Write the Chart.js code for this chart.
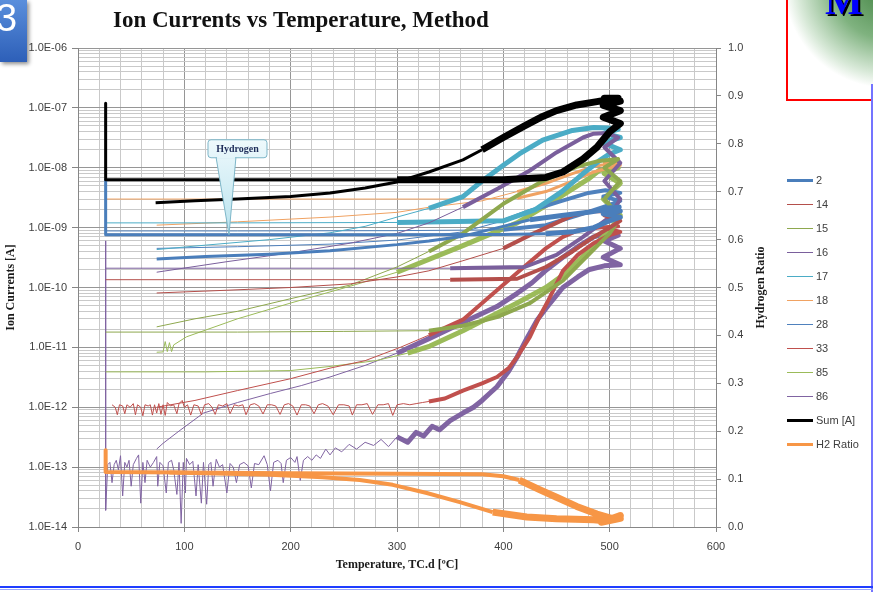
<!DOCTYPE html>
<html>
<head>
<meta charset="utf-8">
<script src="https://cdn.jsdelivr.net/npm/chart.js"></script>
<style>
  html, body { margin: 0; padding: 0; background: #fff; }
  #page { position: relative; width: 873px; height: 592px; overflow: hidden; background: #fff; }
  #chart { position: absolute; left: 0; top: 0; }
  #slideNo { position: absolute; left: 0; top: 0; width: 27px; height: 62px; overflow: hidden;
    background: linear-gradient(#5a8fdc, #2d5fb8); box-shadow: 2px 2px 4px rgba(0,0,0,.45); }
  #slideNo span { position: absolute; left: -4px; top: -3px; font: 38px "Liberation Sans", Arial, sans-serif; color: #fff; }
  #logoBox { position: absolute; left: 786px; top: -3px; width: 100px; height: 100px; border: 2px solid #f00; overflow: hidden;
    background: radial-gradient(circle at 100px -15px, #3d7f3d 0, #7fb27f 55px, #d8e9d8 90px, #fff 104px); }
  #logoBox span { position: absolute; left: 37px; top: -22px; font: bold 40px "Liberation Serif", serif; color: #0000ff;
    text-shadow: 2px 2px 0 #000; }
  .ruleRight { position: absolute; left: 871px; top: 84px; width: 2px; height: 508px; background: #7474ff; }
  .ruleBottom { position: absolute; left: 0; top: 586px; width: 873px; height: 2px; background: #1f3dff; }
  .ruleBottom2 { position: absolute; left: 0; top: 589px; width: 873px; height: 1px; background: #9aa8ff; }
  .lg { position: absolute; left: 787px; height: 16px; width: 80px; font: 11px "Liberation Sans", Arial, sans-serif; color: #404040; }
  .lg i { position: absolute; left: 0; width: 26px; }
  .lg b { position: absolute; left: 29px; top: 0; line-height: 16px; font-weight: normal; }
</style>
</head>
<body>
<div id="page">
  <canvas id="chart" width="873" height="592"></canvas>
  <div id="slideNo"><span>3</span></div>
  <div id="logoBox"><span>M</span></div>
  <div class="ruleRight"></div>
  <div class="ruleBottom"></div>
  <div class="ruleBottom2"></div>
</div>
<script>
// values: [temperature °C, ion current A]
const ion2 = [[26,6.3e-9],[26,7.6e-10],[100,7.6e-10],[200,7.6e-10],[300,7.6e-10],[400,7.7e-10],[440,7.9e-10],[465,8.5e-10],[485,1.0e-9],[500,1.3e-9],
  [510,1.5e-9],[494,1.7e-9],[510,1.9e-9],[495,2.1e-9],[509,2.2e-9],[496,2.0e-9],
  [480,1.8e-9],[455,1.6e-9],[425,1.35e-9],[395,1.0e-9],[362,7.2e-10],[330,6e-10],[300,5.2e-10],[237,4.1e-10],[180,3.6e-10],[120,3.3e-10],[74,3.0e-10]];
const ion14 = [[26,1.35e-10],[200,1.35e-10],[350,1.35e-10],[413,1.4e-10],[440,2.2e-10],[465,4e-10],[485,7e-10],[500,1e-9],
  [510,1.3e-9],[495,1.6e-9],[508,1.8e-9],
  [485,1.9e-9],[465,1.6e-9],[450,1.2e-9],[425,7.5e-10],[400,4.5e-10],[362,2.8e-10],[330,1.9e-10],[300,1.5e-10],[256,1.15e-10],[200,1e-10],[140,9e-11],[74,8.1e-11]];
const ion15 = [[26,1.8e-11],[150,1.8e-11],[250,1.85e-11],[330,1.9e-11],[362,2.3e-11],[394,3.2e-11],[425,5.5e-11],[456,1.3e-10],[480,3.5e-10],[500,8e-10],
  [510,1.5e-9],[495,3e-9],[510,6e-9],[495,1e-8],[508,1.4e-8],
  [490,1.3e-8],[470,1.05e-8],[437,6e-9],[400,2.5e-9],[362,8e-10],[330,4e-10],[300,2.2e-10],[256,1.1e-10],[200,6.5e-11],[150,4e-11],[110,3e-11],[74,2.2e-11]];
const ion16 = [[26,2.1e-10],[200,2.1e-10],[350,2.1e-10],[420,2.2e-10],[450,3.5e-10],[475,7e-10],[500,1.5e-9],
  [510,3e-9],[495,6e-9],[510,1.2e-8],[495,2.2e-8],[508,3.2e-8],[498,3.8e-8],
  [485,3.7e-8],[475,3.2e-8],[450,1.8e-8],[425,9e-9],[395,4.5e-9],[362,2.2e-9],[330,1.2e-9],[300,8e-10],[256,5.5e-10],[200,3.8e-10],[140,2.7e-10],[74,1.8e-10]];
const ion17 = [[26,1.2e-9],[150,1.2e-9],[300,1.22e-9],[400,1.3e-9],[430,2e-9],[455,4e-9],[475,8e-9],[490,1.3e-8],[500,1.7e-8],
  [510,2e-8],[494,2.6e-8],[510,3.2e-8],[495,3.8e-8],[508,4.4e-8],[498,4.6e-8],
  [485,4.7e-8],[465,4.2e-8],[437,2.9e-8],[415,1.7e-8],[400,1.1e-8],[380,6e-9],[362,3.3e-9],[330,2.1e-9],[300,1.5e-9],[270,1.05e-9],[237,8.2e-10],[180,6.3e-10],[120,5.1e-10],[74,4.3e-10]];
const ion18 = [[26,3.0e-9],[200,3.0e-9],[350,3.0e-9],[413,3.1e-9],[440,4e-9],[465,6e-9],[485,8.5e-9],[500,1.0e-8],
  [510,1.1e-8],[495,1.2e-8],[508,1.25e-8],
  [485,1.05e-8],[465,8e-9],[440,5.5e-9],[413,4e-9],[380,2.8e-9],[331,2.2e-9],[300,1.8e-9],[237,1.5e-9],[150,1.25e-9],[74,1.1e-9]];
const ion28 = [[26,8.8e-10],[150,8.8e-10],[300,8.9e-10],[400,9.2e-10],[440,1.1e-9],[470,1.6e-9],[500,2.4e-9],
  [510,2.8e-9],[494,3.3e-9],[510,3.8e-9],[496,4.2e-9],
  [480,3.8e-9],[455,2.8e-9],[425,1.9e-9],[400,1.3e-9],[362,8.5e-10],[300,6.2e-10],[237,5.3e-10],[150,4.8e-10],[74,4.5e-10]];
const ion33 = [[32,1.1e-12],[35,1.0e-12],[37,7.5e-13],[39,1.1e-12],[42,1.05e-12],[44,7.8e-13],[46,1.1e-12],[49,1.0e-12],[52,1.15e-12],[54,7.5e-13],
  [56,1.1e-12],[59,1.0e-12],[61,7.2e-13],[63,1.1e-12],[66,1.05e-12],[68,1.1e-12],[70,7.4e-13],[72,1.1e-12],[74,8e-13],[76,1.15e-12],
  [78,7.6e-13],[80,1.1e-12],[82,7.3e-13],[84,1.2e-12],[87,1.05e-12],[90,1.1e-12],[93,7.8e-13],[95,1.15e-12],[98,1.3e-12],[100,1.0e-12],
  [103,1.1e-12],[106,7.4e-13],[109,1.1e-12],[113,1.05e-12],[116,7.5e-13],[119,1.1e-12],[123,1.15e-12],[126,1.0e-12],[129,7.6e-13],[132,1.1e-12],
  [136,1.05e-12],[140,1.15e-12],[143,7.8e-13],[147,1.1e-12],[151,1.05e-12],[155,1.1e-12],[158,7.5e-13],[162,1.1e-12],[166,1.15e-12],[170,1.05e-12],
  [174,7.7e-13],[178,1.1e-12],[182,1.1e-12],[186,1.05e-12],[190,7.6e-13],[194,1.1e-12],[198,1.15e-12],[202,1.05e-12],[206,7.4e-13],[210,1.1e-12],
  [214,1.1e-12],[218,1.05e-12],[222,7.8e-13],[226,1.1e-12],[230,1.15e-12],[235,1.05e-12],[240,7.5e-13],[245,1.1e-12],[250,1.1e-12],[255,1.05e-12],
  [258,7.4e-13],[262,1.1e-12],[267,1.1e-12],[272,1.15e-12],[277,7.6e-13],[282,1.1e-12],[287,1.1e-12],[292,1.15e-12],[296,7.3e-13],[300,1.1e-12],
  [306,1.15e-12],[312,1.1e-12],[318,1.15e-12],[324,1.2e-12],[330,1.25e-12],
  [345,1.4e-12],[362,1.9e-12],[380,2.5e-12],[394,3.2e-12],[405,4.5e-12],[413,6.9e-12],[425,1.5e-11],[433,3e-11],[441,5.5e-11],[456,1.9e-10],[470,3.5e-10],[485,5.5e-10],[500,7.5e-10],
  [510,8.5e-10],[495,1e-9],[508,1.05e-9],
  [490,1e-9],[470,9e-10],[456,7e-10],[440,4.5e-10],[418,2.1e-10],[394,9e-11],[362,2.9e-11],[330,1.6e-11],[303,1e-11],[270,6e-12],[237,4.5e-12],[200,3e-12],[150,1.9e-12],[110,1.3e-12],[74,1.0e-12]];
const ion85 = [[26,3.9e-12],[120,3.9e-12],[200,4.1e-12],[237,4.8e-12],[280,6e-12],[310,8e-12],[331,1.05e-11],[362,1.9e-11],[413,5.5e-11],[440,1e-10],[456,1.6e-10],[480,4e-10],[500,9e-10],
  [510,1.6e-9],[494,3e-9],[510,5.5e-9],[495,8e-9],[508,1e-8],
  [490,9e-9],[480,6.5e-9],[450,3e-9],[413,1.2e-9],[362,5e-10],[300,1.8e-10],[256,1.05e-10],[200,5.5e-11],[150,3e-11],[102,1.5e-11],[90,1.1e-11],[88,8.5e-12],[86,1.2e-11],[84,8.5e-12],[82,1.25e-11],[80,8.4e-12],[74,8.3e-12]];
const ion86 = [[26,6e-10],[26,1.9e-14],[28,1.1e-13],[30,1.2e-13],[32,5.5e-14],[34,1.1e-13],[36,1.3e-13],[38,9e-14],[40,1.55e-13],[42,3.3e-14],
  [44,1.2e-13],[46,1.0e-13],[48,1.3e-13],[50,4.8e-14],[52,1.1e-13],[55,1.4e-13],[57,1.6e-13],[59,2.5e-14],[61,1.2e-13],[63,5.5e-14],
  [65,1.3e-13],[68,1.0e-13],[71,1.2e-13],[74,1.5e-13],[75,4.8e-14],[77,1.2e-13],[80,1.05e-13],[83,3.7e-14],[85,1.2e-13],[88,1.3e-13],
  [90,9e-14],[93,3.5e-14],[95,1.2e-13],[97,1.15e-14],[99,1.2e-13],[101,3.7e-14],[102,1.4e-13],[105,1.1e-13],[108,1.25e-13],[111,3.3e-14],
  [113,1.1e-13],[116,2.5e-14],[118,1.2e-13],[121,2.4e-14],[123,1.1e-13],[125,1.2e-13],[127,4.8e-14],[130,1.35e-13],[133,1.0e-13],[136,1.1e-13],
  [140,3.7e-14],[143,1.15e-13],[146,1.0e-13],[149,5.5e-14],[152,1.1e-13],[156,1.2e-13],[160,1.05e-13],[163,4.5e-14],[166,1.15e-13],[170,1.1e-13],
  [175,1.55e-13],[178,1.1e-13],[181,4e-14],[184,1.2e-13],[188,1.3e-13],[191,1.15e-13],[193,5.5e-14],[196,1.3e-13],[200,1.45e-13],[204,1.2e-13],
  [206,1.5e-13],[209,6e-14],[212,1.3e-13],[216,1.5e-13],[220,1.3e-13],[224,1.6e-13],[228,1.4e-13],[233,2e-13],[237,1.6e-13],[242,2.1e-13],
  [248,1.8e-13],[255,2.4e-13],[262,2.0e-13],[270,2.6e-13],[278,2.3e-13],[285,2.9e-13],[292,2.2e-13],[300,3.2e-13],[310,2.6e-13],[318,3.8e-13],
  [325,3.3e-13],[333,4.8e-13],[340,4.2e-13],[350,6e-13],[362,8e-13],[372,1e-12],[380,1.3e-12],[387,1.7e-12],[394,2.2e-12],[405,4e-12],
  [413,6.9e-12],[422,1.4e-11],[432,2.9e-11],[444,5.5e-11],[456,1e-10],[470,1.5e-10],[481,2e-10],[495,2.3e-10],
  [510,2.4e-10],[494,3.2e-10],[510,4.5e-10],[495,6e-10],[508,7.5e-10],[497,8e-10],
  [485,7e-10],[470,4.8e-10],[456,3.2e-10],[441,2e-10],[427,1.2e-10],[413,8e-11],[394,4.8e-11],[362,2.6e-11],[330,1.4e-11],[300,8e-12],
  [270,5e-12],[237,3.2e-12],[210,2.3e-12],[181,1.7e-12],[150,1.2e-12],[118,8e-13],[95,4e-13],[80,2.5e-13],[74,2e-13]];
const ionSum = [[26,1.2e-7],[26,6.3e-9],[150,6.3e-9],[300,6.3e-9],[400,6.3e-9],[440,6.9e-9],[456,8.5e-9],[475,1.4e-8],[488,2.2e-8],[500,4e-8],
  [510,5.5e-8],[494,7e-8],[510,9e-8],[494,1.1e-7],[510,1.3e-7],[495,1.45e-7],[508,1.45e-7],[497,1.35e-7],
  [488,1.27e-7],[469,1.12e-7],[450,9e-8],[437,7.2e-8],[420,5e-8],[400,3.2e-8],[380,2e-8],[362,1.35e-8],[330,8.5e-9],[300,5.8e-9],
  [270,4.6e-9],[237,3.8e-9],[200,3.3e-9],[150,3.0e-9],[110,2.8e-9],[73,2.6e-9]];
// [temperature °C, hydrogen ratio]
const h2Ratio = [[26,0.16],[26,0.115],[100,0.114],[200,0.112],[300,0.111],[380,0.11],[400,0.106],[415,0.098],[434,0.078],[450,0.062],[469,0.043],[488,0.027],[505,0.016],
  [495,0.012],[510,0.024],[492,0.01],[510,0.018],[490,0.014],
  [485,0.015],[450,0.017],[422,0.021],[390,0.031],[359,0.052],[328,0.071],[296,0.088],[265,0.098],[230,0.104],[181,0.109],[120,0.112],[86,0.114]];

const seriesNames = ["2", "14", "15", "16", "17", "18", "28", "33", "85", "86", "Sum [A]", "H2 Ratio"];
const seriesData = [ion2, ion14, ion15, ion16, ion17, ion18, ion28, ion33, ion85, ion86, ionSum, h2Ratio];
const xTickLabels = ["0", "100", "200", "300", "400", "500", "600"];
const yTickLabels = ["1.0E-14", "1.0E-13", "1.0E-12", "1.0E-11", "1.0E-10", "1.0E-09", "1.0E-08", "1.0E-07", "1.0E-06"];
const ratioTickLabels = ["0.0", "0.1", "0.2", "0.3", "0.4", "0.5", "0.6", "0.7", "0.8", "0.9", "1.0"];
const chartTitle = "Ion Currents vs Temperature, Method";
const calloutText = "Hydrogen";
const calloutAt = [142, 7.6e-10];

// styles
const lineColors = ["#4a7ebb", "#b44f4b", "#8ea84e", "#7a5f9c", "#4bacc6", "#f0a262", "#4f81bd", "#c0504d", "#9bbb59", "#8064a2", "#000000", "#f79646"];
const lineWidths = [3, 1, 1, 1, 1, 1, 1, 1, 1, 1, 3, 4];
const bandWidths = [5, 4, 4, 4, 5, 3, 4, 4, 5, 5, 7, 7];
const bandFrom = [440, 400, 350, 380, 330, 430, 420, 330, 330, 300, 380, 420];
const legendWidths = [3, 1, 1, 1, 1, 1, 1, 1, 1, 1, 3, 3];

var serif = '"Liberation Serif", "Times New Roman", serif';
var sans = '"Liberation Sans", Arial, sans-serif';
var gridMinor = "#c9c9c9";
var gridMajor = "#969696";

function isDecade(v) {
  var l = Math.log10(v);
  return Math.abs(l - Math.round(l)) < 1e-6;
}

Chart.defaults.font.family = sans;
Chart.defaults.font.size = 11;
Chart.defaults.color = "#404040";

var datasets = seriesData.map(function (pts, i) {
  var isRatio = i === seriesData.length - 1;
  return {
    label: seriesNames[i],
    data: pts.map(function (p) { return { x: p[0], y: p[1] }; }),
    yAxisID: isRatio ? "y2" : "y",
    borderColor: lineColors[i],
    borderWidth: lineWidths[i],
    borderJoinStyle: "round",
    pointRadius: 0,
    tension: 0,
    order: i >= 10 ? 0 : 1,
    segment: {
      borderWidth: function (ctx) {
        return ctx.p0.parsed.x > bandFrom[i] || ctx.p1.parsed.x > bandFrom[i] ? bandWidths[i] : lineWidths[i];
      }
    }
  };
});

var decor = {
  id: "decor",
  afterDraw: function (chart) {
    var c = chart.ctx;
    var area = chart.chartArea;
    c.save();
    c.fillStyle = "#111";
    c.font = "bold 23px " + serif;
    c.textAlign = "left";
    c.textBaseline = "alphabetic";
    c.fillText(chartTitle, 113, 27);

    c.save();
    c.translate(761, (area.top + area.bottom) / 2);
    c.rotate(-Math.PI / 2);
    c.font = "bold 12px " + serif;
    c.textAlign = "center";
    c.textBaseline = "middle";
    c.fillStyle = "#1a1a1a";
    c.fillText("Hydrogen Ratio", 0, 0);
    c.restore();

    // callout pointing at the mass 2 line
    var tx = chart.scales.x.getPixelForValue(calloutAt[0]);
    var ty = chart.scales.y.getPixelForValue(calloutAt[1]);
    var bx = tx - 21, by = ty - 95, bw = 59, bh = 18;
    var g = c.createLinearGradient(0, by, 0, ty);
    g.addColorStop(0, "#eef9fc");
    g.addColorStop(1, "#b9e3ee");
    c.fillStyle = g;
    c.strokeStyle = "#7db6c8";
    c.lineWidth = 1;
    c.beginPath();
    c.moveTo(tx - 13, by + bh - 1);
    c.lineTo(tx, ty);
    c.lineTo(tx + 7, by + bh - 1);
    c.closePath();
    c.fill();
    c.stroke();
    c.beginPath();
    c.roundRect(bx, by, bw, bh, 3);
    c.fill();
    c.stroke();
    c.fillStyle = g;
    c.fillRect(tx - 12, by + bh - 2, 18, 3);
    c.fillStyle = "#1f2d5a";
    c.font = "bold 10px " + serif;
    c.textAlign = "center";
    c.textBaseline = "middle";
    c.fillText(calloutText, bx + bw / 2, by + bh / 2 + 1);
    c.restore();
  }
};

new Chart(document.getElementById("chart"), {
  type: "line",
  data: { datasets: datasets },
  plugins: [decor],
  options: {
    responsive: false,
    animation: false,
    events: [],
    layout: { padding: { left: 0, right: 98, top: 48, bottom: 18 } },
    plugins: { legend: { display: false }, tooltip: { enabled: false } },
    scales: {
      x: {
        type: "linear",
        min: 0,
        max: 600,
        afterFit: function (s) { s.height = 47; },
        border: { color: "#868686" },
        grid: {
          color: function (ctx) { return ctx.tick && ctx.tick.value % 100 === 0 ? gridMajor : gridMinor; },
          tickColor: function (ctx) { return ctx.tick && ctx.tick.value % 100 === 0 ? "#868686" : "rgba(0,0,0,0)"; },
          tickLength: 5
        },
        ticks: {
          stepSize: 20,
          autoSkip: false,
          maxRotation: 0,
          padding: 8,
          callback: function (v) { return v % 100 === 0 ? xTickLabels[v / 100] : ""; }
        },
        title: {
          display: true,
          text: "Temperature, TC.d [ºC]",
          color: "#1a1a1a",
          font: { family: serif, size: 12, weight: "bold" },
          padding: { top: 4, bottom: 2 }
        }
      },
      y: {
        type: "logarithmic",
        position: "left",
        min: 1e-14,
        max: 1e-6,
        afterFit: function (s) { s.width = 78; },
        afterBuildTicks: function (s) {
          var ticks = [];
          for (var e = -14; e < -6; e++) {
            for (var m = 1; m < 10; m++) ticks.push({ value: m * Math.pow(10, e) });
          }
          ticks.push({ value: 1e-6 });
          s.ticks = ticks;
        },
        border: { color: "#868686" },
        grid: {
          color: function (ctx) { return ctx.tick && isDecade(ctx.tick.value) ? gridMajor : gridMinor; },
          tickColor: function (ctx) { return ctx.tick && isDecade(ctx.tick.value) ? "#868686" : "rgba(0,0,0,0)"; },
          tickLength: 6
        },
        ticks: {
          autoSkip: false,
          padding: 5,
          callback: function (v) {
            return isDecade(v) ? yTickLabels[Math.round(Math.log10(v)) + 14] : "";
          }
        },
        title: {
          display: true,
          text: "Ion Currents [A]",
          color: "#1a1a1a",
          font: { family: serif, size: 12, weight: "bold" },
          padding: { top: 4, bottom: 0 }
        }
      },
      y2: {
        type: "linear",
        position: "right",
        min: 0,
        max: 1,
        afterFit: function (s) { s.width = 59; },
        border: { color: "#868686" },
        grid: { drawOnChartArea: false, tickLength: 5, tickColor: "#868686" },
        ticks: {
          stepSize: 0.1,
          padding: 7,
          callback: function (v) { return ratioTickLabels[Math.round(v * 10)]; }
        }
      }
    }
  }
});

// legend on the right
var page = document.getElementById("page");
seriesNames.forEach(function (name, i) {
  var item = document.createElement("div");
  item.className = "lg";
  item.style.top = (172 + 24 * i) + "px";
  var line = document.createElement("i");
  line.style.top = (8 - legendWidths[i] / 2) + "px";
  line.style.height = legendWidths[i] + "px";
  line.style.background = lineColors[i];
  var label = document.createElement("b");
  label.textContent = name;
  item.appendChild(line);
  item.appendChild(label);
  page.appendChild(item);
});
</script>
</body>
</html>
